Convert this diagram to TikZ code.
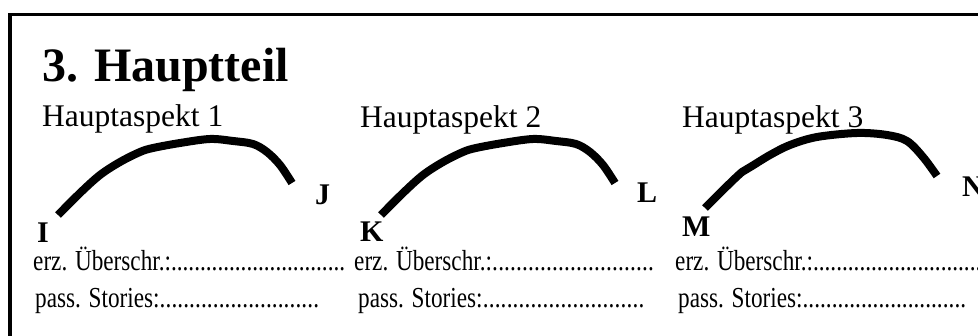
\documentclass[tikz,border=0pt]{standalone}
\usepackage{fontspec}
\usepackage{graphicx}
\setmainfont{Liberation Serif}
\newcommand\dotrow[2]{\scalebox{0.8}[1]{\hbox to #2{#1\xleaders\hbox{.}\hfill}}}
\begin{document}
\begin{tikzpicture}[x=1pt,y=-1pt,
  txt/.style={inner sep=0pt, anchor=base west},
  head/.style={txt, font=\fontsize{48}{48}\selectfont\bfseries},
  aspect/.style={txt, font=\fontsize{31.5}{32}\selectfont},
  endpt/.style={txt, font=\fontsize{30}{30}\selectfont\bfseries},
  row/.style={txt, font=\fontsize{29}{29}\selectfont},
  arcline/.style={line width=8pt, line join=round},
  frame/.style={line width=3.5pt, line join=miter}]
\useasboundingbox (0,0) rectangle (978,336);
\clip (0,0) rectangle (978,336);
\draw[frame] (10,400) |- (1000,14.5);

\node[head] (title) at (42,82) {3. Hauptteil};

\node[aspect] (a1) at (42,127) {Hauptaspekt 1};
\node[aspect] (a2) at (360,128) {Hauptaspekt 2};
\node[aspect] (a3) at (682,128) {Hauptaspekt 3};

\draw[arcline] plot[smooth, tension=0.55] coordinates {(58,215) (80,193) (100,175) (120,162) (140,152) (153,148) (180,143) (210,139) (233,141) (253,144) (267,152) (280,165) (292,183)};
\draw[arcline] plot[smooth, tension=0.55] coordinates {(381,215) (403,193) (423,175) (443,162) (463,152) (476,148) (503,143) (533,139) (556,141) (576,144) (590,152) (603,165) (615,183)};
\draw[arcline] plot[smooth, tension=0.55] coordinates {(705,208) (723,190) (742,172) (752,166) (770,155) (790,145) (817,137) (857,133) (887,135) (907,141) (923,157) (937,176)};

\node[endpt] (I) at (37,243) {I};
\node[endpt] (J) at (315,205) {J};
\node[endpt] (K) at (360,242) {K};
\node[endpt] (L) at (637,203) {L};
\node[endpt] (M) at (682,237) {M};
\node[endpt] (N) at (962,197) {N};

\node[row] (e1) at (33,271) {\dotrow{erz. Überschr.:}{390pt}};
\node[row] (e2) at (354,271) {\dotrow{erz. Überschr.:}{375pt}};
\node[row] (e3) at (675,271) {\dotrow{erz. Überschr.:}{390pt}};

\node[row] (p1) at (35,308) {\dotrow{pass. Stories:}{355pt}};
\node[row] (p2) at (358,308) {\dotrow{pass. Stories:}{358pt}};
\node[row] (p3) at (678,308) {\dotrow{pass. Stories:}{360pt}};
\end{tikzpicture}
\end{document}
